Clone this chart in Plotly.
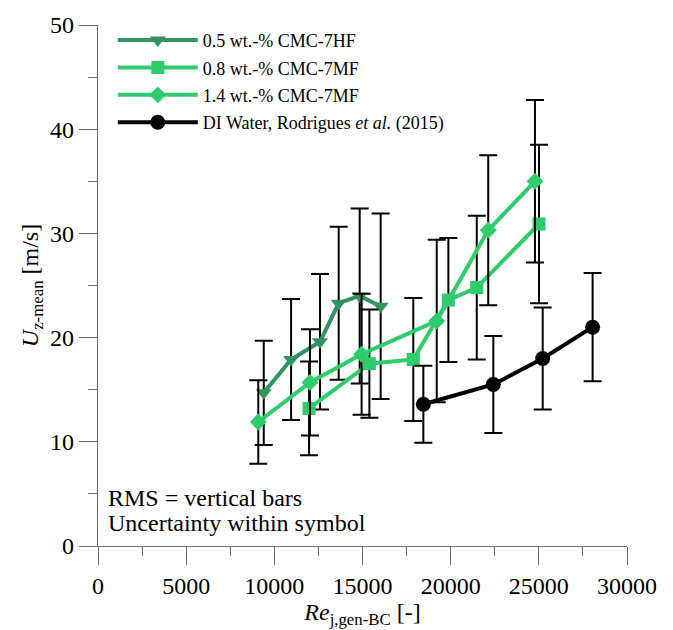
import plotly.graph_objects as go

# ---- data ----
re_hf05 = [9400, 10950, 12590, 13650, 14840, 16030]
u_hf05 = [14.7, 17.9, 19.6, 23.3, 24.0, 23.0]
rms_hf05 = [5.0, 5.8, 6.5, 7.35, 8.4, 8.9]

re_mf08 = [11970, 15390, 17880, 19870, 21480, 25010]
u_mf08 = [13.2, 17.5, 17.9, 23.6, 24.8, 30.9]
rms_mf08 = [4.5, 5.2, 5.9, 5.95, 6.9, 7.6]

re_mf14 = [9090, 12020, 14950, 19210, 22130, 24780]
u_mf14 = [11.9, 15.7, 18.4, 21.6, 30.3, 35.0]
rms_mf14 = [4.0, 5.1, 5.8, 7.8, 7.2, 7.8]

re_di = [18450, 22420, 25220, 28050]
u_di = [13.6, 15.5, 18.0, 21.0]
rms_di = [3.7, 4.65, 4.9, 5.2]

names = ["0.5 wt.-% CMC-7HF", "0.8 wt.-% CMC-7MF", "1.4 wt.-% CMC-7MF",
         "DI Water, Rodrigues <i>et al.</i> (2015)"]
x_ticks = [0, 5000, 10000, 15000, 20000, 25000, 30000]
y_ticks = [0, 10, 20, 30, 40, 50]

FONT = "Liberation Serif, Times New Roman, serif"
dark_green = "#31935f"
light_green = "#2ecc6b"

series = [
    (re_hf05, u_hf05, rms_hf05, names[0], dark_green, "triangle-down", 14),
    (re_mf08, u_mf08, rms_mf08, names[1], light_green, "square", 13),
    (re_mf14, u_mf14, rms_mf14, names[2], light_green, "diamond", 13),
    (re_di, u_di, rms_di, names[3], "black", "circle", 15),
]

fig = go.Figure()
for i, (x, y, e, nm, col, sym, sz) in enumerate(series):
    fig.add_trace(go.Scatter(
        x=x, y=y, name=nm, mode="lines+markers", legendgroup=f"g{i}",
        line=dict(color=col, width=4),
        marker=dict(color=col, symbol=sym, size=sz),
        error_y=dict(type="data", array=e, visible=True, color="black",
                     thickness=2, width=9),
    ))

axis_common = dict(
    showline=True, linecolor="#6e6e6e", linewidth=1.3,
    ticks="outside", ticklen=18, tickwidth=1.3, tickcolor="#6e6e6e",
    showgrid=False, zeroline=False,
    tickfont=dict(family=FONT, size=24, color="black"),
)

fig.update_xaxes(
    range=[0, 30000], tickvals=x_ticks, ticktext=[str(v) for v in x_ticks],
    minor=dict(dtick=2500, ticklen=9, tickwidth=1.3, tickcolor="#6e6e6e", ticks="outside"),
    title=dict(text="<i>Re</i><sub>j,gen-BC</sub> [-]",
               font=dict(family=FONT, size=24, color="black"), standoff=2),
    **axis_common,
)
fig.update_yaxes(
    range=[0, 50], tickvals=y_ticks, ticktext=[str(v) for v in y_ticks],
    minor=dict(dtick=5, ticklen=9, tickwidth=1.3, tickcolor="#6e6e6e", ticks="outside"),
    title=dict(text="<i>U</i><sub>z-mean</sub> [m/s]",
               font=dict(family=FONT, size=24, color="black"), standoff=4),
    **axis_common,
)

fig.add_annotation(
    x=0.015, y=0.093, xref="paper", yref="paper", xanchor="left", yanchor="middle",
    text="RMS = vertical bars", showarrow=False,
    font=dict(family=FONT, size=24, color="black"),
)
fig.add_annotation(
    x=0.015, y=0.045, xref="paper", yref="paper", xanchor="left", yanchor="middle",
    text="Uncertainty within symbol", showarrow=False,
    font=dict(family=FONT, size=24, color="black"),
)

fig.update_layout(
    width=673, height=630,
    margin=dict(l=98, r=46, t=18, b=84),
    paper_bgcolor="white", plot_bgcolor="white",
    showlegend=True,
    legend=dict(
        x=0.028, y=1.006, xanchor="left", yanchor="top",
        font=dict(family=FONT, size=18, color="black"),
        bgcolor="rgba(0,0,0,0)", traceorder="grouped", tracegroupgap=1,
        itemwidth=80,
    ),
    font=dict(family=FONT),
)

fig.write_html("out.html")
